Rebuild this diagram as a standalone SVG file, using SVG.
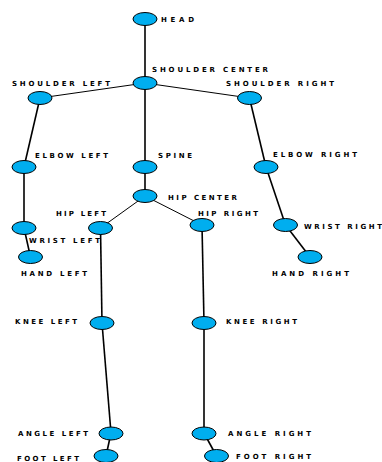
<svg xmlns="http://www.w3.org/2000/svg" width="382" height="462" viewBox="0 0 382 462">
  <style>
    .bone { stroke: #000; stroke-width: 1.6; fill: none; }
    .thin { stroke-width: 1; }
    .joint ellipse { fill: #00aeef; stroke: #000; stroke-width: 1; }
    .joint text { font-family: "DejaVu Sans", "Liberation Sans", sans-serif; font-weight: bold; font-size: 7px; fill: #000; }
  </style>
  <rect width="382" height="462" fill="#fff"/>
  <g id="connectors">
    <line class="bone" x1="145" y1="19" x2="145" y2="83"/>
    <line class="bone thin" x1="145" y1="83" x2="40" y2="98"/>
    <line class="bone thin" x1="145" y1="83" x2="249.5" y2="98"/>
    <line class="bone" x1="40" y1="98" x2="24" y2="167"/>
    <line class="bone" x1="24" y1="167" x2="24" y2="228"/>
    <line class="bone" x1="24" y1="228" x2="30.5" y2="257"/>
    <line class="bone" x1="249.5" y1="98" x2="266" y2="167"/>
    <line class="bone" x1="266" y1="167" x2="285.5" y2="225"/>
    <line class="bone" x1="285.5" y1="225" x2="310" y2="257"/>
    <line class="bone" x1="145" y1="83" x2="145" y2="167"/>
    <line class="bone" x1="145" y1="167" x2="145" y2="196"/>
    <line class="bone thin" x1="145" y1="196" x2="100.5" y2="228"/>
    <line class="bone thin" x1="145" y1="196" x2="202" y2="225"/>
    <line class="bone" x1="100.5" y1="228" x2="102" y2="323"/>
    <line class="bone" x1="102" y1="323" x2="111" y2="433"/>
    <line class="bone" x1="111" y1="433" x2="106" y2="456"/>
    <line class="bone" x1="202" y1="225" x2="204" y2="323"/>
    <line class="bone" x1="204" y1="323" x2="204" y2="433"/>
    <line class="bone" x1="204" y1="433" x2="216.5" y2="456"/>
  </g>
  <g id="head" class="joint"><ellipse cx="145" cy="19" rx="12" ry="6.5"/><text x="161" y="22" textLength="33" lengthAdjust="spacing">HEAD</text></g>
  <g id="shoulder-center" class="joint"><ellipse cx="145" cy="83" rx="12" ry="6.5"/><text x="152" y="72" textLength="116" lengthAdjust="spacing">SHOULDER CENTER</text></g>
  <g id="shoulder-left" class="joint"><ellipse cx="40" cy="98" rx="12" ry="6.5"/><text x="12" y="86" textLength="98" lengthAdjust="spacing">SHOULDER LEFT</text></g>
  <g id="shoulder-right" class="joint"><ellipse cx="249.5" cy="98" rx="12" ry="6.5"/><text x="226" y="86" textLength="108" lengthAdjust="spacing">SHOULDER RIGHT</text></g>
  <g id="elbow-left" class="joint"><ellipse cx="24" cy="167" rx="12" ry="6.5"/><text x="35" y="157.5" textLength="73" lengthAdjust="spacing">ELBOW LEFT</text></g>
  <g id="spine" class="joint"><ellipse cx="145" cy="167" rx="12" ry="6.5"/><text x="158" y="157.5" textLength="34" lengthAdjust="spacing">SPINE</text></g>
  <g id="elbow-right" class="joint"><ellipse cx="266" cy="167" rx="12" ry="6.5"/><text x="273" y="157" textLength="84" lengthAdjust="spacing">ELBOW RIGHT</text></g>
  <g id="hip-center" class="joint"><ellipse cx="145" cy="196" rx="12" ry="6.5"/><text x="168" y="200" textLength="69" lengthAdjust="spacing">HIP CENTER</text></g>
  <g id="hip-left" class="joint"><ellipse cx="100.5" cy="228" rx="12" ry="6.5"/><text x="56" y="215.5" textLength="50" lengthAdjust="spacing">HIP LEFT</text></g>
  <g id="hip-right" class="joint"><ellipse cx="202" cy="225" rx="12" ry="6.5"/><text x="198" y="215.5" textLength="60" lengthAdjust="spacing">HIP RIGHT</text></g>
  <g id="wrist-left" class="joint"><ellipse cx="24" cy="228" rx="12" ry="6.5"/><text x="29" y="242.5" textLength="71" lengthAdjust="spacing">WRIST LEFT</text></g>
  <g id="wrist-right" class="joint"><ellipse cx="285.5" cy="225" rx="12" ry="6.5"/><text x="304" y="229" textLength="78" lengthAdjust="spacing">WRIST RIGHT</text></g>
  <g id="hand-left" class="joint"><ellipse cx="30.5" cy="257" rx="12" ry="6.5"/><text x="21" y="276" textLength="66" lengthAdjust="spacing">HAND LEFT</text></g>
  <g id="hand-right" class="joint"><ellipse cx="310" cy="257" rx="12" ry="6.5"/><text x="272" y="276" textLength="77" lengthAdjust="spacing">HAND RIGHT</text></g>
  <g id="knee-left" class="joint"><ellipse cx="102" cy="323" rx="12" ry="6.5"/><text x="15" y="324" textLength="62" lengthAdjust="spacing">KNEE LEFT</text></g>
  <g id="knee-right" class="joint"><ellipse cx="204" cy="323" rx="12" ry="6.5"/><text x="226" y="324" textLength="71" lengthAdjust="spacing">KNEE RIGHT</text></g>
  <g id="ankle-left" class="joint"><ellipse cx="111" cy="433.5" rx="12" ry="6.5"/><text x="18" y="436" textLength="70" lengthAdjust="spacing">ANGLE LEFT</text></g>
  <g id="ankle-right" class="joint"><ellipse cx="204" cy="433.5" rx="12" ry="6.5"/><text x="228" y="436" textLength="83" lengthAdjust="spacing">ANGLE RIGHT</text></g>
  <g id="foot-left" class="joint"><ellipse cx="106" cy="456" rx="12" ry="6.5"/><text x="17" y="461" textLength="62" lengthAdjust="spacing">FOOT LEFT</text></g>
  <g id="foot-right" class="joint"><ellipse cx="216.5" cy="456" rx="12" ry="6.5"/><text x="236" y="459" textLength="75" lengthAdjust="spacing">FOOT RIGHT</text></g>
</svg>
